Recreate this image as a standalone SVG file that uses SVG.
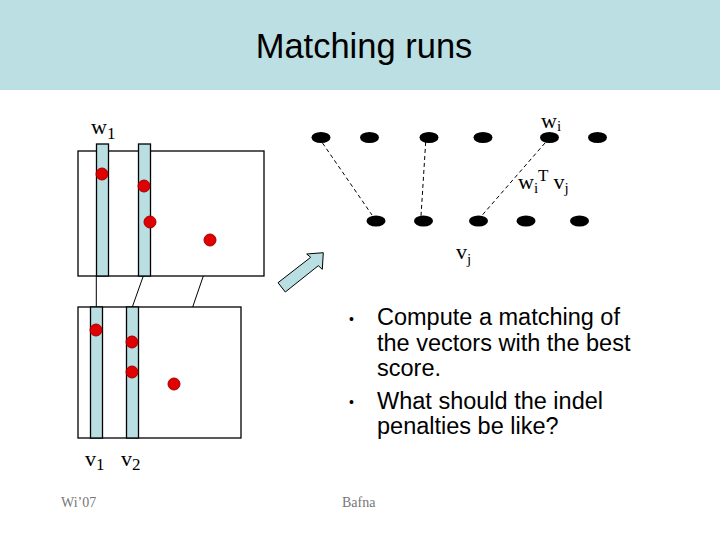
<svg xmlns="http://www.w3.org/2000/svg" width="720" height="540" viewBox="0 0 720 540">
<style>
.serif{font-family:"Liberation Serif","Times New Roman",serif;fill:#000}
.sans{font-family:"Liberation Sans",Arial,sans-serif;fill:#000}
.box{fill:#fff;stroke:#000;stroke-width:1.3}
.bar{fill:#b9dfe3;stroke:#000;stroke-width:1.3}
.dot{fill:#e00000;stroke:#a00000;stroke-width:1}
.node{fill:#000}
.dash{stroke:#000;stroke-width:1;stroke-dasharray:4 3;fill:none}
.link{stroke:#000;stroke-width:1;fill:none}
.foot{font-family:"Liberation Serif","Times New Roman",serif;fill:#777;font-size:14px}
.bul{font-family:"Liberation Sans",Arial,sans-serif;fill:#000;font-size:23.5px}
</style>
<rect x="0" y="0" width="720" height="540" fill="#fff"/>
<rect x="0" y="0" width="720" height="90" fill="#bbdfe3"/>
<text class="sans" x="364" y="58" font-size="34.5" text-anchor="middle">Matching runs</text>

<g id="top-matrix">
<rect class="box" x="78" y="151" width="186" height="125"/>
<rect class="bar" x="96.5" y="144" width="12" height="132"/>
<rect class="bar" x="138.5" y="144" width="12" height="132"/>
<circle class="dot" cx="102" cy="174" r="6"/>
<circle class="dot" cx="144" cy="186" r="6"/>
<circle class="dot" cx="150" cy="222" r="6"/>
<circle class="dot" cx="210" cy="240" r="6"/>
<text class="serif" x="91" y="134" font-size="22">w<tspan font-size="17" dy="5">1</tspan></text>
</g>

<g id="bottom-matrix">
<rect class="box" x="78" y="307" width="163" height="131"/>
<rect class="bar" x="90.5" y="307" width="12" height="131"/>
<rect class="bar" x="126.5" y="307" width="12" height="131"/>
<circle class="dot" cx="96" cy="330" r="6"/>
<circle class="dot" cx="132" cy="342" r="6"/>
<circle class="dot" cx="132" cy="372" r="6"/>
<circle class="dot" cx="174" cy="384" r="6"/>
<text class="serif" x="85" y="466" font-size="22">v<tspan font-size="17" dy="4">1</tspan></text>
<text class="serif" x="121" y="466" font-size="22">v<tspan font-size="17" dy="4">2</tspan></text>
</g>

<g id="matrix-links">
<line class="link" x1="96.3" y1="276" x2="96.3" y2="307"/>
<line class="link" x1="143.3" y1="276" x2="132.3" y2="307"/>
<line class="link" x1="203.3" y1="276" x2="192.7" y2="307"/>
</g>

<g id="top-nodes">
<ellipse class="node" cx="321" cy="137.5" rx="9.5" ry="5.5"/>
<ellipse class="node" cx="369.5" cy="137.5" rx="9.5" ry="5.5"/>
<ellipse class="node" cx="429" cy="137.5" rx="9.5" ry="5.5"/>
<ellipse class="node" cx="483" cy="137.5" rx="9.5" ry="5.5"/>
<ellipse class="node" cx="549.5" cy="137.5" rx="9.5" ry="5.5"/>
<ellipse class="node" cx="597.5" cy="137.5" rx="9.5" ry="5.5"/>
<text class="serif" x="541" y="128" font-size="22">w<tspan font-size="15" dy="3">i</tspan></text>
</g>

<g id="bottom-nodes">
<ellipse class="node" cx="376" cy="221" rx="9.5" ry="5.5"/>
<ellipse class="node" cx="423.5" cy="221" rx="9.5" ry="5.5"/>
<ellipse class="node" cx="478.5" cy="221" rx="9.5" ry="5.5"/>
<ellipse class="node" cx="526" cy="221" rx="9.5" ry="5.5"/>
<ellipse class="node" cx="579.5" cy="221" rx="9.5" ry="5.5"/>
<text class="serif" x="456" y="259" font-size="22">v<tspan font-size="15" dy="5">j</tspan></text>
</g>

<g id="connectors">
<line class="dash" x1="322.5" y1="143" x2="372" y2="215"/>
<line class="dash" x1="425.7" y1="142" x2="421" y2="216"/>
<line class="dash" x1="545" y1="143" x2="481.5" y2="216"/>
</g>

<g id="score-label">
<text class="serif" x="518" y="189" font-size="22">w<tspan font-size="15" dy="4">i</tspan><tspan font-size="17" dy="-12">T</tspan><tspan dx="5" dy="8">v</tspan><tspan font-size="15" dy="4">j</tspan></text>
</g>

<g id="arrow">
<polygon points="278,282.7 310.7,257.3 306.7,254 323.3,252.7 322.3,269.3 318.3,265.7 285.3,292" fill="#b9dfe3" stroke="#000" stroke-width="1"/>
</g>

<g id="bullets">
<text class="sans" x="349" y="324" font-size="14">•</text>
<text class="sans" x="349" y="407" font-size="14">•</text>
<text class="bul" x="377" y="325">Compute a matching of</text>
<text class="bul" x="377" y="351">the vectors with the best</text>
<text class="bul" x="377" y="376">score.</text>
<text class="bul" x="377" y="409">What should the indel</text>
<text class="bul" x="377" y="434">penalties be like?</text>
</g>

<text class="foot" x="61" y="507">Wi’07</text>
<text class="foot" x="342" y="507">Bafna</text>
</svg>
